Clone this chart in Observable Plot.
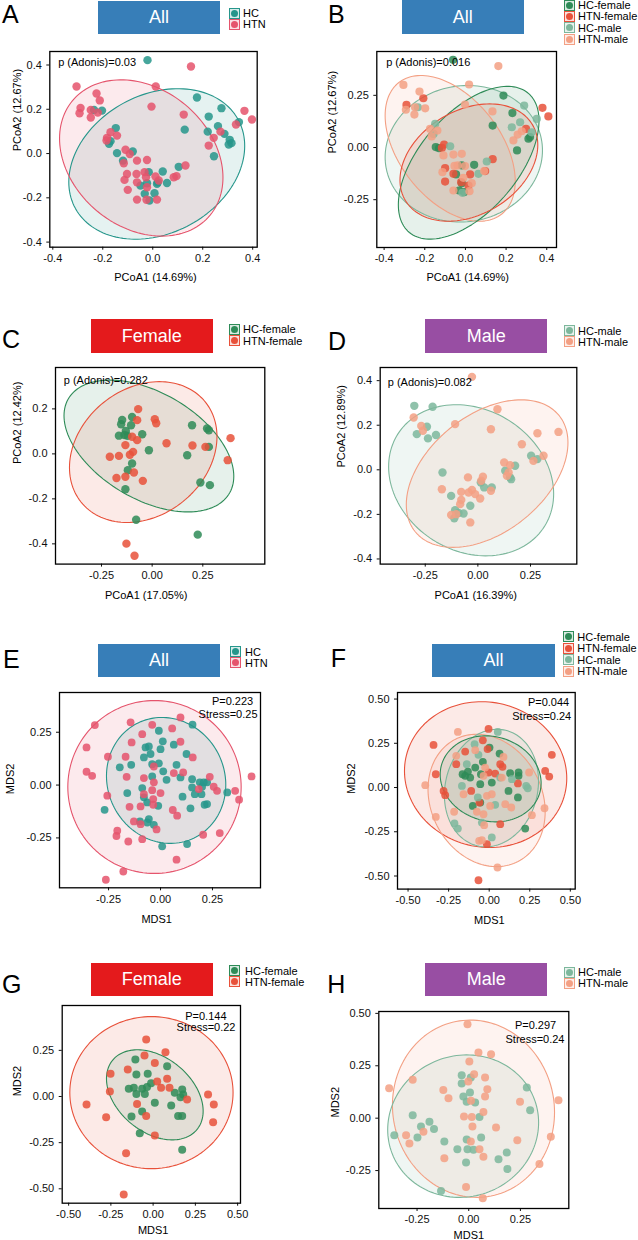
<!DOCTYPE html>
<html>
<head>
<meta charset="utf-8">
<script src="https://cdn.jsdelivr.net/npm/d3@7"></script>
<script src="https://cdn.jsdelivr.net/npm/@observablehq/plot@0.6"></script>
<style>
  html, body { margin: 0; padding: 0; background: #fff; overflow: hidden; }
  #fig { position: relative; width: 638px; height: 1240px; font-family: "Liberation Sans", Arial, sans-serif; color: #000; }
  .letter { position: absolute; font-size: 25px; line-height: 1; }
  .tbox { position: absolute; color: #fff; font-size: 18px; display: flex; align-items: center; justify-content: center; }
  .key { position: absolute; width: 9px; height: 9px; box-sizing: content-box; }
  .key span { position: absolute; left: 1px; top: 1px; width: 7px; height: 7px; border-radius: 50%; }
  .ltxt { position: absolute; font-size: 11px; line-height: 11px; transform: translateY(-50%); white-space: nowrap; }
</style>
</head>
<body>
<div id="fig"></div>
<script>
// ---- group colours ----
const colHC = "#26968b", colHTN = "#e5546c";
const colHCF = "#2e8b57", colHTNF = "#e8513a", colHCM = "#7db79c", colHTNM = "#f3a084";
const colAll = "#377eb8", colFemale = "#e41a1c", colMale = "#984ea3";

// ---- A: PCoA, HC vs HTN ----
const aHC = [[-0.021,0.422],[0.177,0.253],[0.275,0.205],[0.224,0.167],[0.261,0.124],[0.22,0.099],[0.345,0.142],[0.287,0.089],[0.308,0.062],[0.304,0.041],[0.315,0.047],[0.245,-0.012],[0.128,0.108],[0.104,-0.06],[0.04,-0.081],[0.057,-0.133],[0.02,-0.13],[-0.235,0.197],[-0.203,0.194],[-0.148,0.115],[-0.169,0.056],[-0.175,0.044],[-0.143,0.002],[-0.08,0.009],[-0.119,-0.032],[-0.016,-0.084],[-0.032,-0.182],[-0.023,-0.134],[0.007,-0.179],[0.017,-0.137],[-0.049,-0.145],[-0.013,-0.212]];
const aHTN = [[0.153,0.393],[-0.305,0.303],[-0.225,0.271],[-0.212,0.24],[-0.289,0.206],[-0.293,0.182],[-0.248,0.197],[-0.248,0.163],[-0.22,0.185],[0.012,0.303],[-0.005,0.212],[0.124,0.176],[0.367,0.193],[0.397,0.154],[0.333,0.131],[0.271,0.099],[0.244,0.071],[0.224,0.036],[-0.169,0.096],[-0.183,0.071],[-0.143,0.081],[-0.185,0.059],[-0.109,0.017],[-0.092,-0.002],[-0.116,-0.044],[-0.063,-0.032],[-0.023,-0.029],[-0.103,-0.092],[-0.065,-0.092],[-0.033,-0.084],[-0.113,-0.119],[-0.063,-0.13],[-0.027,-0.107],[-0.023,-0.152],[-0.1,-0.164],[-0.063,-0.208],[-0.025,-0.209],[0.017,-0.208],[0.024,-0.122],[0.084,-0.107],[0.095,-0.102],[0.131,-0.054],[0.011,-0.104]];
// ellipse: centre (cx, cy), half-extent in x and y (sx, sy), correlation rho
const aEllipses = [
  {group: "HC", cx: 0.016, cy: -0.047, sx: 0.352, sy: 0.34, rho: 0.24},
  {group: "HTN", cx: -0.046, cy: -0.02, sx: 0.327, sy: 0.353, rho: -0.25}
];

// ---- B: PCoA, group x sex ----
const bHCF = [[-0.061,0.42],[0.187,0.249],[0.231,0.165],[0.134,0.105],[0.31,0.042],[0.318,0.05],[0.254,-0.014],[-0.146,0.002],[-0.13,-0.003],[-0.018,-0.086],[0.043,-0.083],[-0.046,-0.129],[-0.018,-0.171],[-0.031,-0.206],[-0.007,-0.214]];
const bHTNF = [[-0.207,0.236],[-0.29,0.204],[0.379,0.19],[0.408,0.149],[0.298,0.089],[-0.105,0.014],[-0.116,-0.002],[-0.1,-0.099],[0.023,-0.129],[0.134,-0.056],[0.097,-0.113],[-0.059,-0.126],[-0.1,-0.163],[-0.021,-0.166],[0.015,-0.182]];
const bHCM = [[0.289,0.201],[0.351,0.137],[0.269,0.121],[0.228,0.097],[0.326,0.073],[-0.149,0.113],[-0.157,0.065],[-0.234,0.193],[-0.075,0.006],[0.064,-0.126],[0.105,-0.067],[-0.015,-0.217]];
const bHTNM = [[0.162,0.39],[-0.305,0.3],[-0.226,0.268],[-0.293,0.181],[-0.248,0.193],[-0.198,0.188],[-0.251,0.158],[0.018,0.302],[-0.002,0.206],[0.133,0.173],[0.277,0.078],[0.257,0.062],[0.236,0.034],[-0.174,0.089],[-0.138,0.081],[-0.166,0.053],[-0.108,-0.038],[-0.059,-0.034],[-0.018,-0.03],[-0.113,-0.118],[-0.054,-0.088],[-0.038,-0.086],[-0.002,-0.089],[0.092,-0.113],[-0.01,-0.145],[0.031,-0.171],[-0.059,-0.206],[0.02,-0.209]];
const bEllipses = [
  {group: "HC-male", cx: -0.008, cy: -0.03, sx: 0.387, sy: 0.327, rho: 0.05},
  {group: "HTN-male", cx: -0.075, cy: -0.004, sx: 0.32, sy: 0.349, rho: -0.45},
  {group: "HC-female", cx: 0.016, cy: -0.073, sx: 0.346, sy: 0.366, rho: 0.55},
  {group: "HTN-female", cx: 0.017, cy: -0.072, sx: 0.339, sy: 0.281, rho: 0.3}
];

// ---- C: PCoA, females ----
const cHCF = [[-0.148,0.151],[-0.153,0.132],[-0.099,0.164],[-0.104,0.127],[-0.13,0.102],[-0.164,0.081],[-0.137,0.084],[-0.122,0.08],[-0.049,0.087],[-0.016,0.016],[-0.099,-0.043],[-0.12,-0.073],[-0.132,-0.157],[0.197,0.127],[0.271,0.113],[0.28,0.105],[0.28,0.031],[0.173,-0.006],[0.238,-0.127],[0.285,-0.139],[-0.079,-0.293],[0.225,-0.359]];
const cHTNF = [[-0.069,0.199],[-0.074,0.15],[0.013,0.154],[0.02,0.136],[-0.099,0.076],[-0.074,0.061],[-0.132,0.039],[-0.094,0.009],[-0.11,-0.004],[-0.164,-0.009],[-0.209,-0.013],[0.071,0.047],[0.199,0.037],[0.263,0.031],[0.387,0.07],[0.373,-0.028],[-0.09,-0.083],[-0.176,-0.107],[-0.132,-0.102],[-0.046,-0.12],[-0.127,-0.399],[-0.087,-0.453]];
const cEllipses = [
  {group: "HC-female", cx: -0.016, cy: 0.035, sx: 0.419, sy: 0.293, rho: -0.46},
  {group: "HTN-female", cx: -0.044, cy: 0.008, sx: 0.364, sy: 0.313, rho: 0.22}
];

// ---- D: PCoA, males ----
const dHCM = [[-0.302,0.287],[-0.215,0.283],[-0.29,0.16],[-0.242,0.193],[-0.237,0.141],[-0.199,0.156],[-0.168,-0.012],[-0.127,-0.117],[-0.108,-0.181],[-0.112,-0.217],[-0.092,-0.194],[-0.068,-0.196],[-0.036,-0.161],[0.014,-0.057],[0.03,-0.079],[0.066,-0.079],[0.13,-0.004],[0.153,-0.034],[0.158,-0.042],[0.177,0.018],[0.253,0.063],[0.283,0.048]];
const dHTNM = [[-0.028,0.417],[-0.305,0.235],[-0.269,0.197],[-0.261,0.175],[-0.108,0.205],[0.093,0.272],[0.062,0.182],[0.209,0.115],[0.283,0.164],[0.383,0.17],[0.312,0.063],[0.264,0.04],[0.125,0.033],[0.153,0.021],[0.146,-0.012],[0.138,-0.027],[-0.171,-0.087],[-0.047,-0.034],[0.016,-0.049],[0.024,-0.031],[-0.044,-0.102],[-0.028,-0.09],[-0.013,-0.109],[0.011,-0.129],[0.062,-0.094],[-0.079,-0.099],[-0.079,-0.135],[-0.084,-0.154],[-0.127,-0.203],[-0.103,-0.199],[-0.036,-0.236]];
const dEllipses = [
  {group: "HC-male", cx: -0.032, cy: -0.047, sx: 0.392, sy: 0.339, rho: -0.18},
  {group: "HTN-male", cx: 0.044, cy: -0.017, sx: 0.384, sy: 0.331, rho: 0.42}
];

// ---- E: NMDS, HC vs HTN ----
const eHC = [[-0.008,0.257],[0.011,0.207],[0,0.17],[0.064,0.191],[0.154,0.286],[-0.072,0.178],[-0.056,0.183],[-0.048,0.147],[-0.08,0.131],[-0.141,0.096],[-0.196,0.084],[-0.04,0.099],[-0.008,0.103],[0.013,0.065],[0.029,0.025],[0.077,0.096],[0.125,0.147],[0.096,0.036],[0.152,0.028],[0.189,0.013],[0.208,0.013],[0.224,0.013],[0.152,-0.011],[0.165,-0.043],[0.2,-0.008],[0.197,-0.043],[0.212,-0.093],[0.224,-0.09],[0.321,-0.035],[0.106,-0.055],[0.144,-0.11],[-0.04,0.041],[-0.088,-0.014],[-0.16,-0.038],[-0.08,-0.058],[-0.064,-0.082],[-0.011,-0.098],[-0.269,-0.117],[-0.099,-0.172],[-0.056,-0.161],[-0.064,-0.177],[-0.032,-0.188],[0.008,-0.29],[0.128,-0.279]];
const eHTN = [[-0.316,0.284],[-0.144,0.297],[-0.04,0.285],[0.056,0.268],[0.096,0.32],[-0.356,0.178],[-0.088,0.241],[-0.139,0.202],[0.096,0.205],[-0.253,0.134],[-0.168,0.134],[0.155,0.131],[0.109,0.06],[-0.032,0.088],[-0.08,0.033],[-0.032,0.013],[0.064,0.057],[-0.356,0.063],[-0.329,0.044],[-0.163,0.039],[0.237,0.039],[0.256,-0.008],[0.272,-0.027],[0.359,-0.027],[0.438,0.041],[0.378,-0.069],[0.184,-0.019],[0,-0.038],[-0.04,-0.024],[-0.256,-0.05],[-0.08,-0.043],[-0.035,-0.066],[-0.149,-0.103],[-0.096,-0.101],[-0.035,-0.093],[0.059,-0.118],[0.08,-0.145],[-0.128,-0.172],[-0.096,-0.185],[-0.019,-0.21],[-0.208,-0.216],[-0.212,-0.241],[-0.155,-0.267],[-0.088,-0.256],[0.205,-0.235],[0.285,-0.227],[0.077,-0.353],[-0.179,-0.409],[-0.263,-0.448]];
const eEllipses = [
  {group: "HTN", cx: -0.029, cy: -0.009, sx: 0.417, sy: 0.409, rho: 0},
  {group: "HC", cx: 0.027, cy: 0.022, sx: 0.287, sy: 0.298, rho: -0.07}
];

// ---- F: NMDS, group x sex ----
const fHCF = [[0.002,0.226],[-0.039,0.145],[0.064,0.192],[-0.086,0.113],[-0.131,0.09],[-0.164,0.075],[-0.148,0.066],[-0.117,0.056],[-0.051,0.075],[-0.055,0.019],[0.016,0.028],[0.129,0.081],[0.181,0.085],[0.181,0.066],[0.119,-0.019],[0.177,-0.056],[-0.101,-0.104],[-0.055,-0.085],[0.222,-0.232]];
const fHTNF = [[-0.004,0.331],[-0.343,0.241],[-0.329,0.075],[-0.281,-0.019],[-0.271,-0.043],[-0.203,0.132],[-0.148,0.203],[-0.039,0.267],[-0.01,0.217],[0.068,0.132],[0.082,0.117],[0.037,0.079],[-0.004,0.085],[-0.111,-0.019],[-0.06,-0.085],[0.068,-0.207],[-0.014,-0.32],[0.386,0.185],[0.345,0.094],[0.37,0.062],[-0.066,-0.524],[0.177,0.023]];
const fHCM = [[0.053,0.314],[-0.09,0.245],[-0.066,0.185],[-0.138,0.132],[-0.168,0.009],[0.068,0.056],[0.14,0.047],[0.228,0.009],[0.238,-0.004],[-0.07,-0.056],[0.037,-0.098],[-0.214,-0.203],[-0.193,-0.232],[-0.045,-0.198],[0.016,-0.282]];
const fHTNM = [[-0.193,0.314],[-0.203,0.179],[-0.086,0.211],[-0.025,0.113],[-0.035,0.066],[0.088,0.173],[0.078,0.056],[0.246,0.085],[-0.394,0.013],[-0.329,-0.166],[-0.216,-0.137],[-0.158,-0.038],[-0.076,-0.137],[-0.035,-0.151],[-0.014,-0.047],[0.016,-0.038],[0.006,-0.104],[0.099,-0.094],[0.136,-0.113],[0.263,-0.156],[0.341,-0.117],[-0.031,-0.213],[-0.062,-0.301],[-0.045,-0.298],[0.051,-0.452]];
const fEllipses = [
  {group: "HTN-female", cx: -0.022, cy: 0.073, sx: 0.5, sy: 0.412, rho: -0.05},
  {group: "HTN-male", cx: -0.016, cy: -0.073, sx: 0.361, sy: 0.374, rho: -0.17},
  {group: "HC-male", cx: 0.014, cy: -0.003, sx: 0.29, sy: 0.332, rho: 0.12},
  {group: "HC-female", cx: 0.009, cy: 0.049, sx: 0.311, sy: 0.243, rho: -0.1}
];

// ---- G: NMDS, females ----
const gHCF = [[-0.105,0.2],[-0.099,0.119],[-0.032,0.123],[0.083,0.164],[-0.144,0.042],[-0.114,0.047],[-0.065,0.042],[-0.036,0.051],[-0.012,0.072],[-0.099,0.014],[-0.049,0.014],[0.01,-0.034],[0.107,-0.049],[0.128,0.02],[0.172,0.038],[0.178,0.011],[0.162,-0.004],[0.148,-0.106],[0.172,-0.106],[-0.128,-0.108],[-0.065,-0.081],[-0.079,-0.199],[0.172,-0.289]];
const gHTNF = [[-0.041,0.309],[-0.051,0.222],[0.073,0.24],[0.01,0.182],[-0.15,0.146],[-0.252,0.123],[-0.256,0.027],[0.083,0.096],[0.024,0.081],[0.047,0.047],[0.097,0.047],[0.201,-0.016],[-0.095,-0.04],[-0.041,-0.105],[0.325,0.011],[0.359,-0.043],[0.355,-0.139],[-0.394,-0.043],[-0.278,-0.112],[0.01,-0.211],[-0.16,-0.307],[-0.174,-0.531]];
const gEllipses = [
  {group: "HTN-female", cx: -0.01, cy: 0.021, sx: 0.483, sy: 0.412, rho: 0},
  {group: "HC-female", cx: 0.01, cy: 0.009, sx: 0.286, sy: 0.244, rho: -0.36}
];

// ---- H: NMDS, males ----
const hHCM = [[-0.034,0.205],[-0.034,0.165],[0.01,0.194],[-0.026,0.103],[0.006,0.122],[-0.01,0.078],[0.031,0.075],[0.052,0.006],[0.281,0.146],[0.297,0.038],[-0.271,0.014],[-0.231,-0.04],[-0.248,-0.092],[-0.19,-0.017],[-0.168,-0.052],[-0.36,-0.081],[-0.118,-0.111],[-0.055,-0.148],[-0.01,-0.102],[-0.006,-0.148],[0.023,-0.151],[0.06,-0.092],[-0.013,-0.211],[0.144,-0.196],[0.184,-0.164],[0.187,-0.243],[-0.134,-0.347]];
const hHTNM = [[-0.006,0.448],[0.047,0.313],[0.108,0.305],[0.003,0.27],[0.026,0.21],[0.079,0.194],[-0.002,0.175],[0.09,0.138],[0.079,0.103],[0.011,0.083],[-0.271,0.183],[-0.385,0.143],[-0.123,0.134],[-0.098,0.095],[0.248,0.078],[0.434,0.086],[0.071,0.03],[-0.023,0.008],[0.015,0.006],[0.018,-0.04],[0.132,-0.045],[0.235,-0.105],[0.397,-0.089],[-0.303,-0.081],[-0.287,-0.121],[-0.219,-0.065],[0.01,-0.111],[0.052,-0.148],[0.071,-0.184],[-0.118,-0.191],[0.342,-0.219],[-0.013,-0.328],[0.068,-0.382]];
const hEllipses = [
  {group: "HTN-male", cx: 0.023, cy: 0.045, sx: 0.392, sy: 0.423, rho: -0.04},
  {group: "HC-male", cx: -0.027, cy: -0.038, sx: 0.365, sy: 0.34, rho: 0.05}
];

// ---- ticks and labels ----
const ticks4 = [-0.4, -0.2, 0, 0.2, 0.4], labels4 = ["-0.4", "-0.2", "0.0", "0.2", "0.4"];
const ticksC = [-0.4, -0.2, 0, 0.2], labelsC = ["-0.4", "-0.2", "0.0", "0.2"];
const ticks25 = [-0.25, 0, 0.25], labels25 = ["-0.25", "0.00", "0.25"];
const ticks50 = [-0.5, -0.25, 0, 0.25, 0.5], labels50 = ["-0.50", "-0.25", "0.00", "0.25", "0.50"];
const ticksG = [-0.5, -0.25, 0, 0.25], labelsG = ["-0.50", "-0.25", "0.00", "0.25"];
const ticksH = [-0.25, 0, 0.25, 0.5], labelsH = ["-0.25", "0.00", "0.25", "0.50"];

const groupColor = {
  "HC": colHC, "HTN": colHTN,
  "HC-female": colHCF, "HTN-female": colHTNF, "HC-male": colHCM, "HTN-male": colHTNM
};

// ---- panel layout (pixel frame: left, top, right, bottom) ----
const panels = [
  {letter: "A", lx: 2, lb: 23, col: 0, frame: [49.3, 51, 256.7, 246.7], r: 4.2,
   xd: [-0.412, 0.418], yd: [-0.423, 0.461], xt: ticks4, xl: labels4, yt: ticks4, yl: labels4,
   xTitle: "PCoA1 (14.69%)", yTitle: "PCoA2 (12.67%)", xo: [2, 30.3], yo: [-32.3, 2],
   title: ["All", colAll, 98, 1, 220, 34],
   series: [["HC", aHC], ["HTN", aHTN]], ellipses: aEllipses,
   notes: [["p (Adonis)=0.03", "start", 8.4, 11]],
   legend: [229, 243, [13, 24.3]]},
  {letter: "B", lx: 328, lb: 23, col: 319, frame: [376.3, 51, 556, 247], r: 4.1,
   xd: [-0.436, 0.448], yd: [-0.479, 0.46], xt: ticks4, xl: labels4, yt: ticks25, yl: labels25,
   xTitle: "PCoA1 (14.69%)", yTitle: "PCoA2 (12.67%)", xo: [1, 29.7], yo: [-44.3, 4],
   title: ["All", colAll, 402, 0, 523.7, 34],
   series: [["HC-female", bHCF], ["HTN-female", bHTNF], ["HC-male", bHCM], ["HTN-male", bHTNM]], ellipses: bEllipses,
   notes: [["p (Adonis)=0.016", "start", 9.4, 11]],
   legend: [564, 578, [5, 16.3, 27.6, 39]]},
  {letter: "C", lx: 2, lb: 348.3, col: 0, frame: [55, 366.7, 264.3, 563.3], r: 4.2,
   xd: [-0.477, 0.556], yd: [-0.49, 0.384], xt: ticks25, xl: labels25, yt: ticksC, yl: labelsC,
   xTitle: "PCoA1 (17.05%)", yTitle: "PCoA2 (12.42%)", xo: [-14, 31.7], yo: [-38, -1.7],
   title: ["Female", colFemale, 91, 319.3, 212.7, 353.3],
   series: [["HC-female", cHCF], ["HTN-female", cHTNF]], ellipses: cEllipses,
   notes: [["p (Adonis)=0.282", "start", 8.3, 13.3]],
   legend: [229, 243, [329, 340.7]]},
  {letter: "D", lx: 328, lb: 350, col: 319, frame: [379.7, 366.7, 576.3, 563.3], r: 4.2,
   xd: [-0.464, 0.47], yd: [-0.423, 0.459], xt: ticks25, xl: labels25, yt: ticks4, yl: labels4,
   xTitle: "PCoA1 (16.39%)", yTitle: "PCoA2 (12.89%)", xo: [-2.7, 31.7], yo: [-38.4, 1.7],
   title: ["Male", colMale, 425.3, 319.3, 547.3, 353.3],
   series: [["HC-male", dHCM], ["HTN-male", dHTNM]], ellipses: dEllipses,
   notes: [["p (Adonis)=0.082", "start", 7.6, 15]],
   legend: [564, 578, [330.7, 341.5]]},
  {letter: "E", lx: 3, lb: 668.3, col: 0, frame: [59, 691.7, 260, 887], r: 3.9,
   xd: [-0.486, 0.481], yd: [-0.486, 0.438], xt: ticks25, xl: labels25, yt: ticks25, yl: labels25,
   xTitle: "MDS1", yTitle: "MDS2", xo: [-3.3, 32], yo: [-49, 4],
   title: ["All", colAll, 98, 644, 220, 677.3],
   series: [["HC", eHC], ["HTN", eHTN]], ellipses: eEllipses,
   notes: [["P=0.223", "end", -7.3, 9], ["Stress=0.25", "end", -3, 21.6]],
   legend: [229.5, 245, [651.7, 662.7]]},
  {letter: "F", lx: 330.7, lb: 666.7, col: 319, frame: [397, 691.7, 574.7, 888.3], r: 3.9,
   xd: [-0.565, 0.53], yd: [-0.574, 0.537], xt: ticks50, xl: labels50, yt: ticks50, yl: labels50,
   xTitle: "MDS1", yTitle: "MDS2", xo: [3, 31], yo: [-45.7, 3],
   title: ["All", colAll, 432.3, 644, 554.7, 677.3],
   series: [["HC-female", fHCF], ["HTN-female", fHTNF], ["HC-male", fHCM], ["HTN-male", fHTNM]], ellipses: fEllipses,
   notes: [["P=0.044", "end", -6, 10], ["Stress=0.24", "end", -4, 24]],
   legend: [563, 577.3, [636.7, 648, 659.5, 671]]},
  {letter: "G", lx: 2, lb: 993.3, col: 0, frame: [61.7, 1005, 240, 1202.7], r: 4.0,
   xd: [-0.538, 0.517], yd: [-0.578, 0.493], xt: ticks50, xl: labels50, yt: ticksG, yl: labelsG,
   xTitle: "MDS1", yTitle: "MDS2", xo: [1.8, 27.3], yo: [-45, -8],
   title: ["Female", colFemale, 91, 962.7, 212.7, 996],
   series: [["HC-female", gHCF], ["HTN-female", gHTNF]], ellipses: gEllipses,
   notes: [["P=0.144", "end", -14, 10.7], ["Stress=0.22", "end", -5, 21.7]],
   legend: [229, 245, [970.7, 981.7]]},
  {letter: "H", lx: 327.3, lb: 993.3, col: 319, frame: [378.3, 1010.7, 568.3, 1207.7], r: 4.0,
   xd: [-0.435, 0.484], yd: [-0.431, 0.509], xt: ticks25, xl: labels25, yt: ticksH, yl: labelsH,
   xTitle: "MDS1", yTitle: "MDS2", xo: [-5, 27.3], yo: [-43.6, 7.5],
   title: ["Male", colMale, 425.3, 962.7, 547.3, 996],
   series: [["HC-male", hHCM], ["HTN-male", hHTNM]], ellipses: hEllipses,
   notes: [["P=0.297", "end", -12.6, 13.6], ["Stress=0.24", "end", -4.3, 27.6]],
   legend: [564, 578, [972.3, 983.3]]}
];

// closed outline of a confidence-style ellipse
function ellipseOutline(e, n = 144) {
  const s = Math.sqrt(1 - e.rho * e.rho);
  return d3.range(n).map(i => {
    const t = 2 * Math.PI * i / n;
    return {x: e.cx + e.sx * Math.cos(t), y: e.cy + e.sy * (e.rho * Math.cos(t) + s * Math.sin(t))};
  });
}

const fig = document.getElementById("fig");
const FONT = '"Liberation Sans", Arial, sans-serif';

function addDiv(cls, css, text) {
  const d = document.createElement("div");
  d.className = cls;
  Object.assign(d.style, css);
  if (text != null) d.textContent = text;
  fig.appendChild(d);
  return d;
}

for (const p of panels) {
  const [fl, ft, fr, fb] = p.frame;
  const svgLeft = p.col, W = 319;
  const svgTop = ft - 12, H = (fb - ft) + 12 + 48;

  const marks = [];
  // ellipse fills, then outlines
  for (const e of p.ellipses) {
    const c = groupColor[e.group];
    marks.push(Plot.line(ellipseOutline(e), {x: "x", y: "y", curve: "linear-closed", fill: c, fillOpacity: 0.12, stroke: "none", clip: true}));
  }
  for (const e of p.ellipses) {
    const c = groupColor[e.group];
    marks.push(Plot.line(ellipseOutline(e), {x: "x", y: "y", curve: "linear-closed", stroke: c, strokeWidth: 1.1, clip: true}));
  }
  // samples
  for (const [g, pts] of p.series) {
    marks.push(Plot.dot(pts, {x: d => d[0], y: d => d[1], r: p.r, fill: groupColor[g], fillOpacity: 0.85, stroke: "none"}));
  }
  // statistics annotations
  for (const [txt, anchor, dx, dy] of p.notes) {
    marks.push(Plot.text([txt], {text: d => d, frameAnchor: anchor === "start" ? "top-left" : "top-right",
      textAnchor: anchor, lineAnchor: "middle", dx, dy, fontSize: 11, fill: "#000"}));
  }
  // axes
  marks.push(Plot.axisX({ticks: p.xt, tickFormat: d => p.xl[p.xt.indexOf(d)], tickSize: 3, tickPadding: 4, label: null}));
  marks.push(Plot.axisY({ticks: p.yt, tickFormat: d => p.yl[p.yt.indexOf(d)], tickSize: 3, tickPadding: 5, label: null}));
  marks.push(Plot.text([p.xTitle], {text: d => d, frameAnchor: "bottom", lineAnchor: "middle", dx: p.xo[0], dy: p.xo[1], fontSize: 11, fill: "#000"}));
  marks.push(Plot.text([p.yTitle], {text: d => d, frameAnchor: "left", rotate: -90, lineAnchor: "middle", dx: p.yo[0], dy: p.yo[1], fontSize: 11, fill: "#000"}));
  marks.push(Plot.frame({stroke: "#000", strokeWidth: 1.3}));

  const svg = Plot.plot({
    width: W, height: H,
    marginLeft: fl - svgLeft, marginRight: svgLeft + W - fr,
    marginTop: ft - svgTop, marginBottom: svgTop + H - fb,
    x: {domain: p.xd}, y: {domain: p.yd},
    style: {fontFamily: FONT, fontSize: "11px", color: "#111", background: "transparent", overflow: "visible"},
    marks
  });
  svg.style.position = "absolute";
  svg.style.left = svgLeft + "px";
  svg.style.top = svgTop + "px";
  svg.style.maxWidth = "none";
  fig.appendChild(svg);

  // panel letter
  addDiv("letter", {left: p.lx + "px", top: (p.lb - 21.2) + "px"}, p.letter);
  // coloured title box
  const [tt, tc, tx0, ty0, tx1, ty1] = p.title;
  addDiv("tbox", {left: tx0 + "px", top: ty0 + "px", width: (tx1 - tx0) + "px", height: (ty1 - ty0) + "px", background: tc}, tt);
  // legend
  const [kx, txx, rows] = p.legend;
  p.series.forEach(([g], i) => {
    const c = groupColor[g];
    const k = addDiv("key", {left: kx + "px", top: (rows[i] - 5.5) + "px", border: "1px solid " + c, background: d3.color(c).copy({opacity: 0.18}).formatRgb()});
    const dot = document.createElement("span");
    dot.style.background = c;
    k.appendChild(dot);
    addDiv("ltxt", {left: txx + "px", top: rows[i] + "px"}, g);
  });
}
</script>
</body>
</html>
